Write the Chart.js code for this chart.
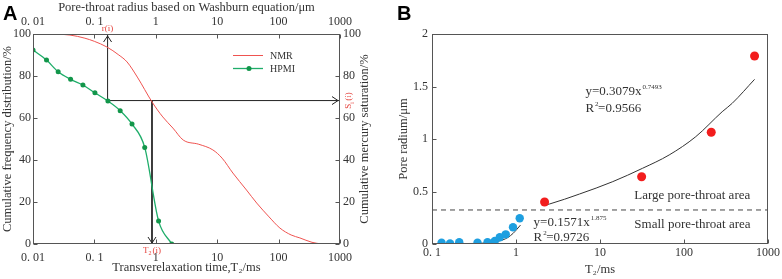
<!DOCTYPE html>
<html>
<head>
<meta charset="utf-8">
<script src="https://cdn.jsdelivr.net/npm/chart.js@4.4.0/dist/chart.umd.min.js"></script>
<style>
body { margin: 0; background: #fff; }
#wrap { position: relative; width: 782px; height: 279px; }
.panel { position: absolute; top: 0; height: 279px; }
#pa { left: 0; width: 390px; }
#pb { left: 390px; width: 392px; }
</style>
</head>
<body>
<div id="wrap">
  <div class="panel" id="pa"><canvas id="chartA"></canvas></div>
  <div class="panel" id="pb"><canvas id="chartB"></canvas></div>
</div>
<script>
// ---------- panel A : cumulative curves ----------
var decadesA = [0.01, 0.1, 1, 10, 100, 1000];
var decadeLabelsA = ['0. 01', '0. 1', '1', '10', '100', '1000'];

var nmrT2  = [0.01, 0.02, 0.04, 0.07, 0.1, 0.16, 0.25, 0.34, 0.5, 0.87, 1.3, 1.9, 2.8, 5, 8.5, 12, 18, 30, 44, 70, 105, 160, 222, 350, 500];
var nmrCum = [100, 100, 99.5, 98, 96.5, 93.8, 90, 86.7, 79.5, 67.6, 60.5, 55.2, 49.5, 47.5, 44.8, 40.9, 33.8, 25.7, 19.5, 12.9, 7.6, 4.3, 2.9, 0.8, 0];

var hpmiR   = [0.01, 0.0166, 0.0257, 0.041, 0.065, 0.102, 0.166, 0.263, 0.41, 0.66, 1.11, 1.82];
var hpmiSat = [92.4, 87.6, 82, 78.4, 75.7, 72, 68.1, 63.5, 57.1, 46, 11, 0];

// the r(i) / S(i) / T2(i) reading guide
var guideR = 0.164;
var guideT2 = 0.867;
var guideS = 68.3;

// ---------- panel B : pore radius vs T2 ----------
var decadesB = [0.1, 1, 10, 100, 1000];
var decadeLabelsB = ['0. 1', '1', '10', '100', '1000'];

var smallT2 = [0.130, 0.164, 0.211, 0.348, 0.458, 0.559, 0.641, 0.755, 0.921, 1.107];
var smallR  = [0.012, 0.006, 0.016, 0.012, 0.016, 0.029, 0.064, 0.092, 0.159, 0.245];
var largeT2 = [2.19, 31.3, 211, 692];
var largeR  = [0.40, 0.641, 1.064, 1.79];

var smallFitT2 = [0.13, 0.2, 0.3, 0.4, 0.5, 0.6, 0.7, 0.8, 0.92, 1.02, 1.13];
var smallFitR  = [0.004, 0.004, 0.005, 0.008, 0.015, 0.025, 0.04, 0.062, 0.10, 0.138, 0.18];
var largeFitT2 = [2.23, 2.51, 5.7, 14.2, 32.1, 66.6, 138, 285, 375, 692];
var largeFitR  = [0.371, 0.381, 0.476, 0.594, 0.721, 0.848, 1.022, 1.26, 1.34, 1.568];

var boundaryR = 0.324;

var SERIF = '"Liberation Serif", "Times New Roman", serif';
Chart.defaults.font.family = SERIF;
Chart.defaults.color = '#333';

function pts(xs, ys) {
    return xs.map(function (x, i) { return { x: x, y: ys[i] }; });
}

function decadeTicks(list) {
    return function (s) { s.ticks = list.map(function (v) { return { value: v }; }); };
}
function decadeLabel(list, labels) {
    return function (v) { var i = list.indexOf(v); return i >= 0 ? labels[i] : ''; };
}
var noGrid = { display: false, drawTicks: false };

// box round the plot + short inward tick marks
function frameAndTicks(sides) {
    return {
        id: 'frame',
        afterDraw: function (chart) {
            var ctx = chart.ctx, a = chart.chartArea;
            var L = Math.round(a.left) + 0.5, R = Math.round(a.right) - 0.5;
            var T = Math.round(a.top) + 0.5, B = Math.round(a.bottom) - 0.5;
            ctx.save();
            ctx.strokeStyle = '#555';
            ctx.lineWidth = 1;
            ctx.strokeRect(L, T, R - L, B - T);
            ctx.beginPath();
            sides.forEach(function (sd) {
                var sc = chart.scales[sd.id];
                sc.ticks.forEach(function (t) {
                    var p = Math.round(sc.getPixelForValue(t.value)) + 0.5;
                    if (sd.side === 'bottom') { ctx.moveTo(p, B); ctx.lineTo(p, B - 4); }
                    if (sd.side === 'top')    { ctx.moveTo(p, T); ctx.lineTo(p, T + 4); }
                    if (sd.side === 'left')   { ctx.moveTo(L, p); ctx.lineTo(L + 4, p); }
                    if (sd.side === 'right')  { ctx.moveTo(R, p); ctx.lineTo(R - 4, p); }
                });
            });
            ctx.stroke();
            ctx.restore();
        }
    };
}

function arrowHead(ctx, x, y, dir) {
    ctx.beginPath();
    if (dir === 'up')    { ctx.moveTo(x - 4, y + 6); ctx.lineTo(x, y); ctx.lineTo(x + 4, y + 6); }
    if (dir === 'down')  { ctx.moveTo(x - 4, y - 6); ctx.lineTo(x, y); ctx.lineTo(x + 4, y - 6); }
    if (dir === 'right') { ctx.moveTo(x - 6, y - 4); ctx.lineTo(x, y); ctx.lineTo(x - 6, y + 4); }
    ctx.stroke();
}

var annotA = {
    id: 'annotA',
    afterDraw: function (chart) {
        var ctx = chart.ctx, a = chart.chartArea;
        var xs = chart.scales.x, ys = chart.scales.y;
        var px1 = xs.getPixelForValue(guideR), px2 = xs.getPixelForValue(guideT2);
        var py = ys.getPixelForValue(guideS);
        ctx.save();
        ctx.strokeStyle = '#222';
        ctx.lineWidth = 1;
        arrowHead(ctx, px1, a.top + 2, 'up');
        arrowHead(ctx, a.right - 2, py, 'right');
        arrowHead(ctx, px2, a.bottom - 1, 'down');

        // red guide labels
        ctx.fillStyle = '#E5453F';
        ctx.font = '9px ' + SERIF;
        ctx.textAlign = 'center';
        ctx.textBaseline = 'bottom';
        ctx.fillText('r(i)', px1, a.top - 1);
        ctx.textBaseline = 'top';
        ctx.textAlign = 'left';
        var w1 = ctx.measureText('T').width;
        var total = w1 + 4 + ctx.measureText('(i)').width;
        var sx = px2 - total / 2;
        ctx.fillText('T', sx, a.bottom + 2);
        ctx.font = '6px ' + SERIF;
        ctx.fillText('2', sx + w1, a.bottom + 6);
        ctx.font = '9px ' + SERIF;
        ctx.fillText('(i)', sx + w1 + 4, a.bottom + 2);

        ctx.save();
        ctx.translate(a.right + 9, py);
        ctx.rotate(-Math.PI / 2);
        ctx.textBaseline = 'middle';
        var ws = ctx.measureText('S').width;
        var tot2 = ws + 3 + ctx.measureText('(i)').width;
        ctx.fillText('S', -tot2 / 2, 0);
        ctx.font = '6px ' + SERIF;
        ctx.fillText('i', -tot2 / 2 + ws, 3);
        ctx.font = '9px ' + SERIF;
        ctx.fillText('(i)', -tot2 / 2 + ws + 3, 0);
        ctx.restore();

        // right axis title reads bottom to top
        ctx.save();
        ctx.fillStyle = '#333';
        ctx.font = '12.5px ' + SERIF;
        ctx.translate(a.right + 25, (a.top + a.bottom) / 2);
        ctx.rotate(-Math.PI / 2);
        ctx.textAlign = 'center';
        ctx.textBaseline = 'middle';
        ctx.fillText('Cumulative mercury saturation/%', 0, 0);
        ctx.restore();

        // legend
        var lx = a.left + 200, ly1 = a.top + 21, ly2 = a.top + 34;
        ctx.lineWidth = 1;
        ctx.strokeStyle = '#EF5350';
        ctx.beginPath(); ctx.moveTo(lx, ly1 + 0.5); ctx.lineTo(lx + 30, ly1 + 0.5); ctx.stroke();
        ctx.strokeStyle = '#1FAD6A';
        ctx.lineWidth = 1.3;
        ctx.beginPath(); ctx.moveTo(lx, ly2 + 0.5); ctx.lineTo(lx + 30, ly2 + 0.5); ctx.stroke();
        ctx.fillStyle = '#12964A';
        ctx.beginPath(); ctx.arc(lx + 16, ly2 + 0.5, 2.5, 0, Math.PI * 2); ctx.fill();
        ctx.fillStyle = '#333';
        ctx.font = '10px ' + SERIF;
        ctx.textAlign = 'left';
        ctx.textBaseline = 'middle';
        ctx.fillText('NMR', lx + 37, ly1 + 1);
        ctx.fillText('HPMI', lx + 37, ly2 + 1);

        // panel letter
        ctx.fillStyle = '#000';
        ctx.font = 'bold 20px "Liberation Sans", Arial, sans-serif';
        ctx.textBaseline = 'alphabetic';
        ctx.fillText('A', 3, 20);
        ctx.restore();
    }
};

var chartA = new Chart(document.getElementById('chartA'), {
    type: 'scatter',
    data: {
        datasets: [
            {
                label: 'HPMI', data: pts(hpmiR, hpmiSat), showLine: true,
                borderColor: '#1FAD6A', borderWidth: 1.3,
                pointRadius: 2.5, pointBackgroundColor: '#12964A', pointBorderWidth: 0,
                cubicInterpolationMode: 'monotone'
            },
            {
                label: 'NMR', data: pts(nmrT2, nmrCum), showLine: true,
                borderColor: '#EF5350', borderWidth: 1, pointRadius: 0,
                cubicInterpolationMode: 'monotone'
            },
            {
                label: 'r guide', data: pts([guideR, guideR], [guideS, 100]), showLine: true,
                borderColor: '#222', borderWidth: 1, pointRadius: 0
            },
            {
                label: 'S guide', data: pts([guideR, 1000], [guideS, guideS]), showLine: true,
                borderColor: '#222', borderWidth: 1, pointRadius: 0
            },
            {
                label: 'T2 guide', data: pts([guideT2, guideT2], [guideS, 0]), showLine: true,
                borderColor: '#222', borderWidth: 1, pointRadius: 0
            }
        ]
    },
    options: {
        responsive: true,
        maintainAspectRatio: false,
        animation: false,
        layout: { padding: 0 },
        plugins: { legend: { display: false }, tooltip: { enabled: false } },
        scales: {
            x: {
                type: 'logarithmic', position: 'bottom', min: 0.01, max: 1000,
                grid: noGrid, border: { display: false },
                afterBuildTicks: decadeTicks(decadesA),
                ticks: { callback: decadeLabel(decadesA, decadeLabelsA), font: { size: 12 }, padding: 7, maxRotation: 0, autoSkip: false },
                title: { display: true, text: 'Transverelaxation time,T\u2082/ms', font: { size: 12.5 }, padding: { top: 0, bottom: 4 } },
                afterFit: function (s) { s.height = 35; }
            },
            x2: {
                type: 'logarithmic', position: 'top', min: 0.01, max: 1000,
                grid: noGrid, border: { display: false },
                afterBuildTicks: decadeTicks(decadesA),
                ticks: { callback: decadeLabel(decadesA, decadeLabelsA), font: { size: 12 }, padding: 5, maxRotation: 0, autoSkip: false },
                title: { display: true, text: 'Pore-throat radius based on Washburn equation/\u03bcm', font: { size: 12.5 }, padding: { top: 0, bottom: 0 } },
                afterFit: function (s) { s.height = 34; }
            },
            y: {
                position: 'left', min: 0, max: 100,
                grid: noGrid, border: { display: false },
                ticks: { stepSize: 20, font: { size: 12 }, padding: 2 },
                title: { display: true, text: 'Cumulative frequency distribution/%', font: { size: 12.5 }, padding: { top: 0, bottom: 0 } },
                afterFit: function (s) { s.width = 33; }
            },
            y2: {
                position: 'right', min: 0, max: 100,
                grid: noGrid, border: { display: false },
                ticks: { stepSize: 20, font: { size: 12 }, padding: 3 },
                afterFit: function (s) { s.width = 50; }
            }
        }
    },
    plugins: [frameAndTicks([
        { id: 'x', side: 'bottom' }, { id: 'x2', side: 'top' },
        { id: 'y', side: 'left' }, { id: 'y2', side: 'right' }
    ]), annotA]
});

// text with a small raised exponent, anchored at data values
function powerText(ctx, xs, ys, xv, yv, base, expo) {
    var x = xs.getPixelForValue(xv), y = ys.getPixelForValue(yv);
    ctx.font = '13px ' + SERIF;
    ctx.fillText(base, x, y);
    var w = ctx.measureText(base).width;
    ctx.font = '7px ' + SERIF;
    ctx.fillText(expo, x + w + 1, y - 6);
}

var annotB = {
    id: 'annotB',
    afterDraw: function (chart) {
        var ctx = chart.ctx;
        var xs = chart.scales.x, ys = chart.scales.y;
        ctx.save();
        ctx.fillStyle = '#333';
        ctx.textAlign = 'left';
        ctx.textBaseline = 'alphabetic';
        powerText(ctx, xs, ys, 6.7, 1.419, 'y=0.3079x', '0.7493');
        powerText(ctx, xs, ys, 6.7, 1.257, 'R', '2');
        ctx.font = '13px ' + SERIF;
        var rw = ctx.measureText('R').width;
        ctx.fillText('=0.9566', xs.getPixelForValue(6.7) + rw + 4, ys.getPixelForValue(1.257));

        powerText(ctx, xs, ys, 1.62, 0.171, 'y=0.1571x', '1.875');
        powerText(ctx, xs, ys, 1.62, 0.029, 'R', '2');
        ctx.font = '13px ' + SERIF;
        ctx.fillText('=0.9726', xs.getPixelForValue(1.62) + rw + 4, ys.getPixelForValue(0.029));

        ctx.fillText('Large pore-throat area', xs.getPixelForValue(25.6), ys.getPixelForValue(0.429));
        ctx.fillText('Small pore-throat area', xs.getPixelForValue(25.6), ys.getPixelForValue(0.152));

        ctx.fillStyle = '#000';
        ctx.font = 'bold 20px "Liberation Sans", Arial, sans-serif';
        ctx.fillText('B', 7, 20);
        ctx.restore();
    }
};

var chartB = new Chart(document.getElementById('chartB'), {
    type: 'scatter',
    data: {
        datasets: [
            {
                label: 'small pores', data: pts(smallT2, smallR),
                pointRadius: 4.2, pointBackgroundColor: '#1E9FE0', pointBorderWidth: 0
            },
            {
                label: 'large pores', data: pts(largeT2, largeR),
                pointRadius: 4.5, pointBackgroundColor: '#F21D1D', pointBorderWidth: 0
            },
            {
                label: 'small fit', data: pts(smallFitT2, smallFitR), showLine: true,
                borderColor: '#333', borderWidth: 1, pointRadius: 0, cubicInterpolationMode: 'monotone'
            },
            {
                label: 'large fit', data: pts(largeFitT2, largeFitR), showLine: true,
                borderColor: '#333', borderWidth: 1, pointRadius: 0, cubicInterpolationMode: 'monotone'
            },
            {
                label: 'boundary', data: pts([0.1, 1000], [boundaryR, boundaryR]), showLine: true,
                borderColor: '#444', borderWidth: 1, borderDash: [5, 4], pointRadius: 0
            }
        ]
    },
    options: {
        responsive: true,
        maintainAspectRatio: false,
        animation: false,
        layout: { padding: { top: 34, right: 13, left: 0, bottom: 0 } },
        plugins: { legend: { display: false }, tooltip: { enabled: false } },
        scales: {
            x: {
                type: 'logarithmic', position: 'bottom', min: 0.1, max: 1000,
                grid: noGrid, border: { display: false },
                afterBuildTicks: decadeTicks(decadesB),
                ticks: { callback: decadeLabel(decadesB, decadeLabelsB), font: { size: 12 }, padding: 2, maxRotation: 0, autoSkip: false },
                title: { display: true, text: 'T\u2082/ms', font: { size: 12.5 }, padding: { top: 0, bottom: 2 } },
                afterFit: function (s) { s.height = 35; }
            },
            y: {
                position: 'left', min: 0, max: 2,
                grid: noGrid, border: { display: false },
                ticks: { stepSize: 0.5, font: { size: 12 }, padding: 4, callback: function (v) { return String(v); } },
                title: { display: true, text: 'Pore radium/\u03bcm', font: { size: 12.5 }, padding: { top: 6, bottom: 0 } },
                afterFit: function (s) { s.width = 42; }
            }
        }
    },
    plugins: [frameAndTicks([{ id: 'x', side: 'bottom' }, { id: 'y', side: 'left' }]), annotB]
});
</script>
</body>
</html>
